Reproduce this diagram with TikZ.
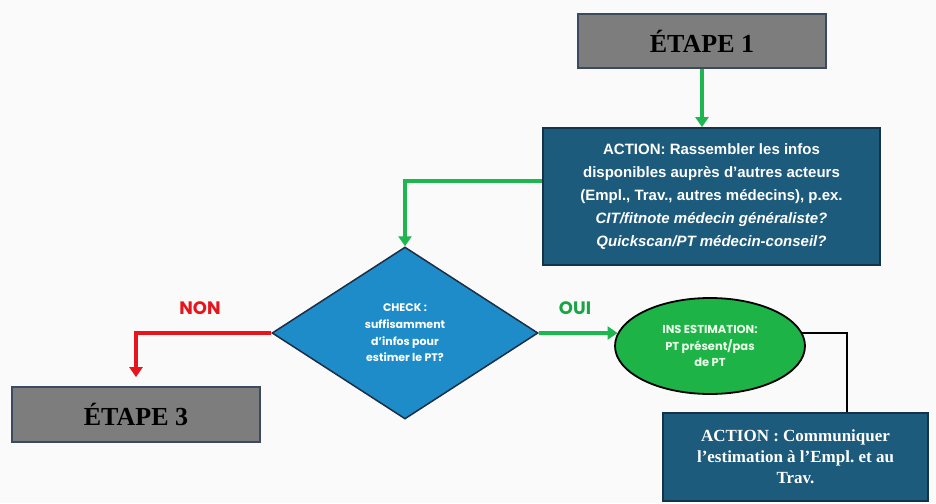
\documentclass[tikz,border=0pt]{standalone}
\usepackage{fontspec}
\setmainfont{Liberation Serif}
\setsansfont{Liberation Sans}
\newfontfamily\popfont{Poppins}
\usetikzlibrary{shapes.geometric,arrows.meta}
\frenchspacing

\definecolor{bgcol}{HTML}{FAFAFA}
\definecolor{stepfill}{HTML}{7D7D7D}
\definecolor{stepline}{HTML}{3C4A60}
\definecolor{actfill}{HTML}{1D5B7D}
\definecolor{actline}{HTML}{12334A}
\definecolor{chkfill}{HTML}{1E8CC8}
\definecolor{chkline}{HTML}{1B2E45}
\definecolor{estfill}{HTML}{1DB346}
\definecolor{flowgreen}{HTML}{1EB64F}
\definecolor{flowred}{HTML}{E8141C}

\tikzset{
  stepbox/.style={rectangle, draw=stepline, line width=1.8pt, fill=stepfill,
    minimum width=248pt, minimum height=54pt, inner sep=0pt,
    font=\bfseries\fontsize{26}{30}\selectfont, text=black},
  actbox/.style={rectangle, draw=actline, line width=1.8pt, fill=actfill,
    inner sep=0pt, text=white, align=center},
  chkbox/.style={diamond, draw=chkline, line width=1.5pt, fill=chkfill,
    minimum width=266pt, minimum height=172pt, inner sep=0pt, text=white,
    align=center, font=\popfont\bfseries\fontsize{11}{16.6}\selectfont},
  estbox/.style={ellipse, draw=black, line width=1.8pt, fill=estfill,
    minimum width=190pt, minimum height=96pt, inner sep=0pt,
    text=green!8!white, align=center,
    font=\popfont\bfseries\fontsize{11.5}{16.5}\selectfont},
  flowlabel/.style={font=\popfont\bfseries\fontsize{18}{20}\selectfont},
  greenflow/.style={draw=flowgreen, line width=4pt,
    -{Triangle[width=13pt,length=10pt]}},
  redflow/.style={draw=flowred, line width=3.6pt,
    -{Triangle[width=13pt,length=10pt]}},
  blackflow/.style={draw=black, line width=2.5pt},
}

\begin{document}
\begin{tikzpicture}[x=1pt, y=-1pt]
  \fill[bgcol] (0,0) rectangle (936,503);
  \useasboundingbox (0,0) rectangle (936,503);

  % boxes
  \node[stepbox] (etape1) at (702,41) {ÉTAPE 1};
  \node[actbox, minimum width=337pt, minimum height=137pt,
        font=\sffamily\bfseries\fontsize{15}{23}\selectfont] (action1) at (711.5,196.5)
    {ACTION: Rassembler les infos\\
     disponibles auprès d’autres acteurs\\
     (Empl., Trav., autres médecins), p.ex.\\
     \itshape CIT/fitnote médecin généraliste?\\
     \itshape Quickscan/PT médecin-conseil?};
  \node[chkbox] (check) at (405,333)
    {CHECK :\\ suffisamment\\ d’infos pour\\ estimer le PT?};
  \node[estbox] (estim) at (710,346)
    {INS ESTIMATION:\\ PT présent/pas\\ de PT};
  \node[stepbox, minimum height=55pt] (etape3) at (136,414.5) {ÉTAPE 3};
  \node[actbox, minimum width=265pt, minimum height=88pt,
        font=\bfseries\fontsize{17}{21}\selectfont] (action2) at (795.5,457)
    {ACTION : Communiquer\\ l’estimation à l’Empl. et au\\ Trav.};

  % connectors
  \draw[greenflow] (etape1.south) -- (etape1.south |- action1.north);
  \draw[greenflow] ([yshift=15.5pt]action1.west) -| (check.north);
  \draw[redflow, shorten >=9pt] (check.west) -| (etape3.north);
  \draw[greenflow] (check.east) -- (estim.172);
  \draw[blackflow] (estim.8) -| ([xshift=51.5pt]action2.north);

  % branch labels
  \node[flowlabel, text=flowred] (non) at (200,308) {NON};
  \node[flowlabel, text=flowgreen!90!black] (oui) at (575,308) {OUI};
\end{tikzpicture}
\end{document}
